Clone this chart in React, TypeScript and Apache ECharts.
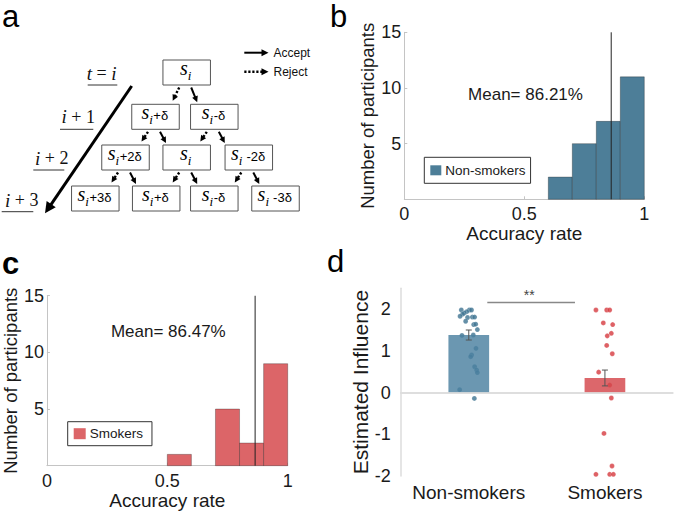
import React, { useEffect, useRef } from 'react';
import * as echarts from 'echarts';

const FONT = '"Liberation Sans", Arial, sans-serif';
const SERIF = '"Liberation Serif", "DejaVu Serif", serif';

// ---------- Panel b : non-smokers accuracy histogram ----------
const nonSmokerBinEdges = [0.6, 0.7, 0.8, 0.9, 1.0];
const nonSmokerCounts = [2, 5, 7, 11];
const nonSmokerMeanAcc = 0.8621;

// ---------- Panel c : smokers accuracy histogram ----------
const smokerBinEdges = [0.5, 0.6, 0.7, 0.8, 0.9, 1.0];
const smokerCounts = [1, 0, 5, 2, 9];
const smokerMeanAcc = 0.8647;

// ---------- Panel d : estimated influence ----------
const groups = ['Non-smokers', 'Smokers'];
const influenceMeans = [1.38, 0.35];
const influenceSE = [0.12, 0.19];
const nonSmokerInfX = [0.445, 0.504, 0.52, 0.485, 0.467, 0.455, 0.436, 0.491, 0.526, 0.543, 0.477, 0.536, 0.551, 0.563, 0.45, 0.533, 0.553, 0.521, 0.514, 0.543, 0.558, 0.563, 0.433, 0.541];
const nonSmokerInfY = [1.98, 1.98, 1.98, 1.94, 1.91, 1.88, 1.83, 1.8, 1.81, 1.81, 1.71, 1.63, 1.64, 1.51, 1.37, 1.38, 1.06, 0.9, 0.86, 0.62, 0.54, 0.48, 0.07, -0.14];
const smokerInfX = [1.434, 1.513, 1.535, 1.488, 1.557, 1.547, 1.517, 1.513, 1.554, 1.454, 1.535, 1.547, 1.493, 1.552, 1.434, 1.535, 1.562];
const smokerInfY = [1.98, 1.98, 1.98, 1.67, 1.63, 1.42, 1.36, 1.13, 0.93, 0.49, 0.18, -0.13, -0.98, -1.76, -1.96, -1.96, -1.96];
const sigSpan = [0.636, 1.28];
const sigLevel = 2.16;

// ---------- Panel a : diagram text ----------
const treeSuffixes = [
  [''],
  ['+δ', '-δ'],
  ['+2δ', '', ' -2δ'],
  ['+3δ', '+δ', '-δ', ' -3δ'],
];
const timeLabels = ['{it|t}{n| = }{it|i}', '{it|i}{n| + 1}', '{it|i}{n| + 2}', '{it|i}{n| + 3}'];

const BLUE_HIST = '#4d7e98';
const RED_HIST = '#dc6568';
const BLUE_BAR = '#4a80a0';
const RED_BAR = '#d4464b';
const BLUE_PT = '#3d7391';
const RED_PT = '#d63a3f';

let measureCtx: CanvasRenderingContext2D | null = null;
function textWidth(text: string, font: string) {
  if (!measureCtx && typeof document !== 'undefined') {
    measureCtx = document.createElement('canvas').getContext('2d');
  }
  if (!measureCtx) return text.length * 7;
  measureCtx.font = font;
  return measureCtx.measureText(text).width;
}

function histSeries(name: string, edges: number[], counts: number[], color: string, axis: number) {
  const data = counts.map((c, i) => [edges[i], edges[i + 1], c]).filter((d) => d[2] > 0);
  return {
    type: 'custom',
    name,
    xAxisIndex: axis,
    yAxisIndex: axis,
    itemStyle: { color },
    encode: { x: [0, 1], y: 2 },
    data,
    z: 2,
    renderItem: (params: any, api: any) => {
      const p0 = api.coord([api.value(0), api.value(2)]);
      const p1 = api.coord([api.value(1), 0]);
      return {
        type: 'rect',
        shape: { x: p0[0], y: p0[1], width: p1[0] - p0[0], height: p1[1] - p0[1] },
        style: { fill: color, stroke: 'rgba(0,0,0,0.35)', lineWidth: 0.8 },
      };
    },
  };
}

function arrow(x1: number, y1: number, x2: number, y2: number, dashed: boolean, lw: number, head: number) {
  const dx = x2 - x1;
  const dy = y2 - y1;
  const L = Math.hypot(dx, dy);
  const ux = dx / L;
  const uy = dy / L;
  const bx = x2 - ux * head;
  const by = y2 - uy * head;
  const px = -uy;
  const py = ux;
  const w = head * 0.5;
  return [
    {
      type: 'line',
      shape: { x1, y1, x2: bx + ux, y2: by + uy },
      style: { stroke: '#000', lineWidth: lw, lineDash: dashed ? [2.2, 1.8] : null },
    },
    {
      type: 'polygon',
      shape: { points: [[x2, y2], [bx + px * w, by + py * w], [bx - px * w, by - py * w]] },
      style: { fill: '#000' },
    },
  ];
}

function plainText(t: string, x: number, y: number, font: string, align: string, color = '#000') {
  return {
    type: 'text', x, y,
    style: {
      text: t, font, fill: color,
      align, verticalAlign: 'middle', textAlign: align, textVerticalAlign: 'middle',
    },
  };
}

function buildDiagram() {
  const els: any[] = [];
  const rowTop = [60, 104.3, 145, 186];
  const boxW = 47.5;
  const boxH = 25;
  const colCenters = [[186.7], [155.5, 214.3], [125.5, 186.7, 248.8], [95.3, 156.2, 214.3, 275.5]];
  const sFont = 'italic 20px ' + SERIF;
  const iFont = 'italic 13px ' + SERIF;
  const rFont = '13px ' + FONT;
  treeSuffixes.forEach((row, r) => {
    row.forEach((suf, k) => {
      const cx = colCenters[r][k];
      const top = rowTop[r];
      els.push({
        type: 'rect',
        shape: { x: cx - boxW / 2, y: top, width: boxW, height: boxH },
        style: { fill: '#fff', stroke: '#555', lineWidth: 1 },
      });
      const ws = textWidth('s', sFont);
      const wi = textWidth('i', iFont);
      const wr = suf ? textWidth(suf, rFont) : 0;
      const x0 = cx - (ws + wi + wr) / 2 - 1;
      els.push(plainText('s', x0, top + 8, sFont, 'left'));
      els.push(plainText('i', x0 + ws, top + 15.5, iFont, 'left'));
      if (suf) els.push(plainText(suf, x0 + ws + wi + 0.5, top + 11.5, rFont, 'left'));
      if (r < 3) {
        const bottom = top + boxH;
        const childTop = rowTop[r + 1];
        els.push(...arrow(cx - 7.5, bottom + 2.5, cx - 14, childTop - 3.5, true, 2.4, 6));
        els.push(...arrow(cx + 4.5, bottom + 2.5, cx + 10.5, childTop - 2, false, 2, 6));
      }
    });
  });
  // legend arrows
  els.push(...arrow(244.3, 52.7, 268.5, 52.7, false, 2, 7));
  els.push(...arrow(244.3, 71.7, 268.5, 71.7, true, 2.4, 7));
  els.push(plainText('Accept', 273.5, 52.7, '12px ' + FONT, 'left', '#111'));
  els.push(plainText('Reject', 273.5, 71.7, '12px ' + FONT, 'left', '#111'));
  // time labels
  const tPos = [[101.7, 73.3], [78.3, 116.7], [51.7, 158.3], [21.7, 200]];
  const uLines = [[87.7, 117.3, 85], [60, 93.3, 129.3], [33.3, 64.3, 170], [1.7, 33.3, 211.7]];
  timeLabels.forEach((t, i) => {
    els.push({
      type: 'text', x: tPos[i][0], y: tPos[i][1],
      style: {
        text: t, align: 'center', verticalAlign: 'middle', textAlign: 'center', textVerticalAlign: 'middle',
        rich: {
          it: { fontFamily: SERIF, fontStyle: 'italic', fontSize: 19, fill: '#111' },
          n: { fontFamily: SERIF, fontSize: 18, fill: '#111' },
        },
      },
    });
    els.push({
      type: 'line',
      shape: { x1: uLines[i][0], y1: uLines[i][2], x2: uLines[i][1], y2: uLines[i][2] },
      style: { stroke: '#333', lineWidth: 1 },
    });
  });
  // big time arrow
  els.push(...arrow(131.7, 86, 45, 213.3, false, 3, 11));
  return els;
}

function panelLabel(t: string, x: number, y: number, bold: boolean) {
  return plainText(t, x, y, (bold ? 'bold ' : '') + '31px ' + FONT, 'left');
}

function centerText(t: string, x: number, y: number, size: number, color: string) {
  return plainText(t, x, y, size + 'px ' + FONT, 'center', color);
}

const axisGray = '#c4c4c4';

function histX(gridIndex: number) {
  return {
    type: 'value', gridIndex, min: 0, max: 1, interval: 0.5,
    name: 'Accuracy rate', nameLocation: 'middle', nameGap: 22,
    nameTextStyle: { fontSize: 19, color: '#1a1a1a', fontFamily: FONT },
    axisLine: { show: true, lineStyle: { color: axisGray, width: 1 } },
    axisTick: { show: true, inside: true, length: 3, lineStyle: { color: axisGray } },
    axisLabel: { fontSize: 18, color: '#1a1a1a', margin: 6, fontFamily: FONT },
    splitLine: { show: false },
  };
}

function histY(gridIndex: number) {
  return {
    type: 'value', gridIndex, min: 0, max: 15, interval: 5,
    name: 'Number of participants', nameLocation: 'middle', nameGap: 25, nameRotate: 90,
    nameTextStyle: { fontSize: 18.5, color: '#1a1a1a', fontFamily: FONT },
    axisLine: { show: true, lineStyle: { color: axisGray, width: 1 } },
    axisTick: { show: true, inside: true, length: 3, lineStyle: { color: axisGray } },
    axisLabel: { fontSize: 18, color: '#1a1a1a', margin: 3, showMinLabel: false, fontFamily: FONT },
    splitLine: { show: false },
  };
}

function legendBox(name: string, left: number, top: number, padding: number[], iw: number, ih: number) {
  return {
    data: [name], left, top, orient: 'horizontal', icon: 'rect', itemWidth: iw, itemHeight: ih,
    padding, borderColor: '#333', borderWidth: 1, selectedMode: false, itemGap: 0,
    textStyle: { fontSize: 13.5, color: '#1a1a1a', fontFamily: FONT, padding: [0, 0, 0, -1] },
  };
}

export default function App() {
  const ref = useRef<HTMLDivElement>(null);
  useEffect(() => {
    if (!ref.current) return;
    const chart = echarts.init(ref.current, undefined, { renderer: 'svg' });
    const nsPoints = nonSmokerInfX.map((x, i) => [x, nonSmokerInfY[i]]);
    const smPoints = smokerInfX.map((x, i) => [x, smokerInfY[i]]);
    const option: any = {
      animation: false,
      backgroundColor: '#fff',
      textStyle: { fontFamily: FONT },
      grid: [
        { left: 404.3, top: 32.3, width: 240, height: 167 },
        { left: 45.7, top: 295.7, width: 242, height: 170 },
        { left: 400.7, top: 288.3, width: 272.3, height: 187.7 },
      ],
      xAxis: [
        histX(0),
        histX(1),
        {
          type: 'category', gridIndex: 2, data: groups,
          axisLine: { show: true, lineStyle: { color: '#dcdcdc', width: 1.5 } },
          axisTick: { show: false },
          axisLabel: { fontSize: 19, color: '#1a1a1a', margin: 7, fontFamily: FONT, interval: 0 },
        },
        { type: 'value', gridIndex: 2, min: 0, max: 2, show: false },
      ],
      yAxis: [
        histY(0),
        histY(1),
        {
          type: 'value', gridIndex: 2, min: -2, max: 2.5, interval: 1,
          name: 'Estimated Influence', nameLocation: 'middle', nameGap: 23, nameRotate: 90,
          nameTextStyle: { fontSize: 21, color: '#1a1a1a', fontFamily: FONT },
          axisLine: { show: true, lineStyle: { color: '#dcdcdc', width: 1.5 } },
          axisTick: { show: false },
          axisLabel: { fontSize: 18, color: '#1a1a1a', margin: 10, fontFamily: FONT, showMaxLabel: false },
          splitLine: { show: false },
        },
      ],
      legend: [
        legendBox('Non-smokers', 424.3, 157.3, [6, 5, 6, 6], 11, 10),
        legendBox('Smokers', 67.7, 421.7, [5, 9, 5, 6], 12, 11),
      ],
      series: [
        histSeries('Non-smokers', nonSmokerBinEdges, nonSmokerCounts, BLUE_HIST, 0),
        histSeries('Smokers', smokerBinEdges, smokerCounts, RED_HIST, 1),
        {
          type: 'line', name: 'mean b', xAxisIndex: 0, yAxisIndex: 0, symbol: 'none', z: 5,
          data: [[nonSmokerMeanAcc, 0], [nonSmokerMeanAcc, 15]],
          lineStyle: { color: '#222', width: 1 },
        },
        {
          type: 'line', name: 'mean c', xAxisIndex: 1, yAxisIndex: 1, symbol: 'none', z: 5,
          data: [[smokerMeanAcc, 0], [smokerMeanAcc, 15]],
          lineStyle: { color: '#222', width: 1 },
        },
        {
          type: 'scatter', name: 'ns pts', xAxisIndex: 3, yAxisIndex: 2, symbolSize: 5, z: 2,
          data: nsPoints,
          itemStyle: { color: BLUE_PT, borderColor: 'rgba(255,255,255,0.5)', borderWidth: 0.5 },
        },
        {
          type: 'scatter', name: 'sm pts', xAxisIndex: 3, yAxisIndex: 2, symbolSize: 5, z: 2,
          data: smPoints,
          itemStyle: { color: RED_PT, borderColor: 'rgba(255,255,255,0.5)', borderWidth: 0.5 },
        },
        {
          type: 'bar', name: 'group mean', xAxisIndex: 2, yAxisIndex: 2, barWidth: 40.7, z: 3,
          data: influenceMeans.map((v, i) => ({
            value: v,
            itemStyle: { color: i === 0 ? BLUE_BAR : RED_BAR, opacity: 0.82 },
          })),
          markLine: {
            silent: true, symbol: 'none', label: { show: false },
            lineStyle: { color: '#dcdcdc', type: 'solid', width: 1.5 },
            data: [{ yAxis: 0 }],
          },
        },
        {
          type: 'custom', name: 'se', xAxisIndex: 3, yAxisIndex: 2, z: 4,
          data: influenceMeans.map((m, i) => [i + 0.5, m, influenceSE[i]]),
          encode: { x: 0, y: 1 },
          renderItem: (params: any, api: any) => {
            const x = api.value(0);
            const m = api.value(1);
            const s = api.value(2);
            const top = api.coord([x, m + s]);
            const bot = api.coord([x, m - s]);
            const st = { stroke: '#555', lineWidth: 1 };
            return {
              type: 'group',
              children: [
                { type: 'line', shape: { x1: top[0], y1: top[1], x2: bot[0], y2: bot[1] }, style: st },
                { type: 'line', shape: { x1: top[0] - 3, y1: top[1], x2: top[0] + 3, y2: top[1] }, style: st },
                { type: 'line', shape: { x1: bot[0] - 3, y1: bot[1], x2: bot[0] + 3, y2: bot[1] }, style: st },
              ],
            };
          },
        },
        {
          type: 'line', name: 'sig', xAxisIndex: 3, yAxisIndex: 2, symbol: 'none', z: 5,
          data: [[sigSpan[0], sigLevel], [sigSpan[1], sigLevel]],
          lineStyle: { color: '#888', width: 1.5 },
        },
      ],
      graphic: {
        elements: [
          ...buildDiagram(),
          panelLabel('a', 2, 16.5, false),
          panelLabel('b', 330, 16.3, false),
          panelLabel('c', 2, 263.3, true),
          panelLabel('d', 327, 261.9, false),
          centerText('Mean= 86.21%', 525.5, 94, 17, '#1a1a1a'),
          centerText('Mean= 86.47%', 168.3, 331.4, 17, '#1a1a1a'),
          centerText('**', 529.3, 295, 14, '#444'),
        ],
      },
    };
    chart.setOption(option);
    return () => chart.dispose();
  }, []);
  return (
    <div
      ref={ref}
      style={{ position: 'fixed', left: 0, top: 0, width: 675, height: 512, background: '#fff' }}
    />
  );
}
